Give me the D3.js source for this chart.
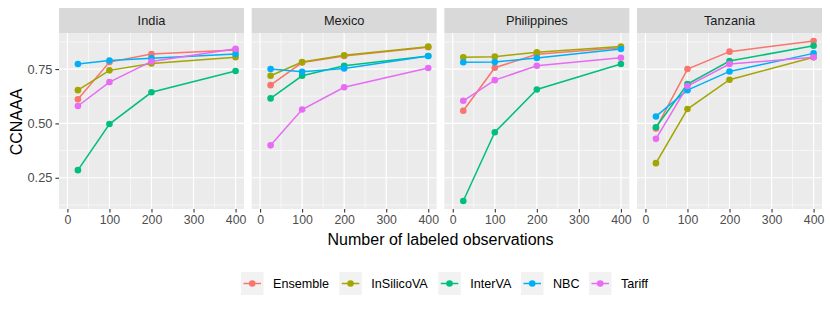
<!DOCTYPE html>
<html><head><meta charset="utf-8">
<script src="https://cdn.jsdelivr.net/npm/d3@7"></script>
<style>body{margin:0;background:#fff}svg{display:block;font-family:"Liberation Sans",Arial,sans-serif}</style>
</head><body><svg id="c" width="830" height="312"></svg>
<script>
const countries = ["India","Mexico","Philippines","Tanzania"];
const methods = ["Ensemble","InSilicoVA","InterVA","NBC","Tariff"];
const colors = ["#F8766D","#A3A500","#00BF7D","#00B0F6","#E76BF3"];
const xValues = [25,100,200,400];
const xTicks = [0,100,200,300,400];
const yTicks = [0.25,0.50,0.75];
// values[country][method] at xValues
const india = {
  Ensemble:[0.611,0.782,0.819,0.838],
  InSilicoVA:[0.653,0.744,0.776,0.804],
  InterVA:[0.285,0.497,0.643,0.741],
  NBC:[0.773,0.789,0.800,0.819],
  Tariff:[0.580,0.690,0.785,0.843]
};
const mexico = {
  Ensemble:[0.676,0.780,0.810,0.850],
  InSilicoVA:[0.719,0.782,0.813,0.853],
  InterVA:[0.615,0.719,0.765,0.810],
  NBC:[0.750,0.737,0.753,0.810],
  Tariff:[0.399,0.564,0.666,0.755]
};
const philippines = {
  Ensemble:[0.558,0.756,0.818,0.848],
  InSilicoVA:[0.804,0.807,0.827,0.854],
  InterVA:[0.143,0.459,0.656,0.773],
  NBC:[0.781,0.782,0.801,0.842],
  Tariff:[0.604,0.699,0.765,0.802]
};
const tanzania = {
  Ensemble:[0.477,0.750,0.830,0.879],
  InSilicoVA:[0.317,0.566,0.701,0.804],
  InterVA:[0.482,0.681,0.787,0.857],
  NBC:[0.532,0.653,0.739,0.822],
  Tariff:[0.429,0.672,0.773,0.804]
};
const tables = [india, mexico, philippines, tanzania];

const svg = d3.select("#c");
const left = 59, right = 822, gap = 7.7;
const pw = (right - left - gap*3)/4;
const stripTop = 8, stripH = 25, pTop = 33, pBot = 209;

// y domain: data range with 5% expansion
let all = [];
tables.forEach(t => methods.forEach(m => all = all.concat(t[m])));
const ymin = d3.min(all), ymax = d3.max(all), ypad = (ymax-ymin)*0.05;
const y = d3.scaleLinear().domain([ymin-ypad, ymax+ypad]).range([pBot, pTop]);
const yMinor = [0.125,0.375,0.625,0.875];
const xMinor = [50,150,250,350];
const font = "Liberation Sans, Arial, sans-serif";

countries.forEach((c, i) => {
  const x0 = left + i*(pw+gap);
  const x = d3.scaleLinear().domain([-20, 420]).range([x0, x0+pw]);
  const g = svg.append("g");
  g.append("rect").attr("x",x0).attr("y",pTop).attr("width",pw).attr("height",pBot-pTop).attr("fill","#EBEBEB");
  g.append("rect").attr("x",x0).attr("y",stripTop).attr("width",pw).attr("height",stripH).attr("fill","#D9D9D9");
  g.append("text").attr("x",x0+pw/2).attr("y",stripTop+stripH/2+4.5).attr("text-anchor","middle")
    .attr("font-size",12.8).attr("fill","#1A1A1A").text(c);
  // grid
  yMinor.forEach(v => g.append("line").attr("x1",x0).attr("x2",x0+pw).attr("y1",y(v)).attr("y2",y(v)).attr("stroke","#fff").attr("stroke-width",0.6));
  xMinor.forEach(v => g.append("line").attr("x1",x(v)).attr("x2",x(v)).attr("y1",pTop).attr("y2",pBot).attr("stroke","#fff").attr("stroke-width",0.6));
  yTicks.forEach(v => g.append("line").attr("x1",x0).attr("x2",x0+pw).attr("y1",y(v)).attr("y2",y(v)).attr("stroke","#fff").attr("stroke-width",1.2));
  xTicks.forEach(v => g.append("line").attr("x1",x(v)).attr("x2",x(v)).attr("y1",pTop).attr("y2",pBot).attr("stroke","#fff").attr("stroke-width",1.2));
  // x axis
  const ax = g.append("g").attr("transform",`translate(0,${pBot})`)
    .call(d3.axisBottom(x).tickValues(xTicks).tickSize(3.6).tickPadding(2.5).tickFormat(d3.format("d")));
  ax.select(".domain").remove();
  ax.selectAll("line").attr("stroke","#333").attr("stroke-width",1.1);
  ax.selectAll("text").attr("fill","#4D4D4D").attr("font-size",12.3).attr("font-family",font);
  if (i === 0) {
    const ay = g.append("g").attr("transform",`translate(${x0},0)`)
      .call(d3.axisLeft(y).tickValues(yTicks).tickSize(3.6).tickPadding(3).tickFormat(d3.format(".2f")));
    ay.select(".domain").remove();
    ay.selectAll("line").attr("stroke","#333").attr("stroke-width",1.1);
    ay.selectAll("text").attr("fill","#4D4D4D").attr("font-size",12.8).attr("font-family",font);
  }
  const t = tables[i];
  const line = d3.line().x((d,k) => x(xValues[k])).y(d => y(d));
  methods.forEach((m, j) => {
    g.append("path").attr("d", line(t[m])).attr("fill","none").attr("stroke",colors[j]).attr("stroke-width",1.5);
  });
  methods.forEach((m, j) => {
    g.selectAll(null).data(t[m]).enter().append("circle")
      .attr("cx",(d,k) => x(xValues[k])).attr("cy",d => y(d)).attr("r",3.3).attr("fill",colors[j]);
  });
});

svg.append("text").attr("x",(left+right)/2).attr("y",244.5).attr("text-anchor","middle")
  .attr("font-size",16).attr("fill","#000").text("Number of labeled observations");
svg.append("text").attr("transform",`translate(21.5,122) rotate(-90)`).attr("text-anchor","middle")
  .attr("font-size",16).attr("fill","#000").text("CCNAAA");

// legend
const legX = [241, 339.3, 438.3, 521, 589];
const lg = svg.append("g");
methods.forEach((m, j) => {
  const kx = legX[j], ky = 272;
  lg.append("rect").attr("x",kx).attr("y",ky).attr("width",22.5).attr("height",23).attr("fill","#F2F2F2");
  lg.append("line").attr("x1",kx+2.5).attr("x2",kx+20).attr("y1",ky+11.5).attr("y2",ky+11.5).attr("stroke",colors[j]).attr("stroke-width",1.5);
  lg.append("circle").attr("cx",kx+11.25).attr("cy",ky+11.5).attr("r",3.3).attr("fill",colors[j]);
  lg.append("text").attr("x",kx+32).attr("y",ky+16).attr("font-size",12.6).attr("fill","#000").text(m);
});
</script></body></html>
